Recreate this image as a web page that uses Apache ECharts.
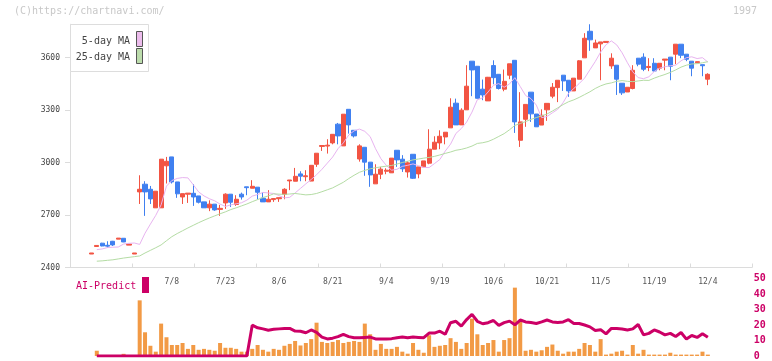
<!DOCTYPE html>
<html><head><meta charset="utf-8">
<script src="https://cdn.jsdelivr.net/npm/echarts@6/dist/echarts.min.js"></script>
<style>html,body{margin:0;padding:0;background:#fff}#c{width:772px;height:361px}</style>
</head><body><div id="c"></div>
<script>
const dates = ['6/17','6/18','6/19','6/20','6/23','6/24','6/25','6/26','6/27','6/30',
'7/1','7/2','7/3','7/4','7/7','7/8','7/9','7/10','7/11','7/14',
'7/15','7/16','7/17','7/18','7/22','7/23','7/24','7/25','7/28','7/29',
'7/30','7/31','8/1','8/4','8/5','8/6','8/7','8/8','8/12','8/13',
'8/14','8/15','8/18','8/19','8/20','8/21','8/22','8/25','8/26','8/27',
'8/28','8/29','9/1','9/2','9/3','9/4','9/5','9/8','9/9','9/10',
'9/11','9/12','9/16','9/17','9/18','9/19','9/22','9/24','9/25','9/26',
'9/29','9/30','10/1','10/2','10/3','10/6','10/7','10/8','10/9','10/10',
'10/14','10/15','10/16','10/17','10/20','10/21','10/22','10/23','10/24','10/27',
'10/28','10/29','10/30','10/31','11/4','11/5','11/6','11/7','11/10','11/11',
'11/12','11/13','11/14','11/17','11/18','11/19','11/20','11/21','11/25','11/26',
'11/27','11/28','12/1','12/2','12/3','12/4'];
const tickLabels = ['7/8','7/23','8/6','8/21','9/4','9/19','10/6','10/21','11/5','11/19','12/4'];
const yTicks = [2400,2700,3000,3300,3600];

const opens = [2477,2520,2539,2527,2550,2562,2567,2528,2477,2832,
2876,2847,2741,2741,2981,3032,2889,2803,2819,2824,
2809,2775,2741,2762,2732,2769,2819,2760,2819,2861,
2853,2859,2796,2775,2788,2793,2818,2895,2893,2935,
2919,2894,2990,3092,3094,3112,3219,3095,3304,3184,
3020,3087,3002,2878,2933,2950,2941,3070,3019,2946,
3047,2935,2975,2996,3076,3112,3146,3198,3339,3215,
3301,3579,3550,3419,3352,3554,3504,3419,3499,3584,
3127,3247,3402,3277,3214,3301,3379,3428,3499,3470,
3409,3476,3598,3750,3655,3678,3686,3552,3556,3453,
3403,3423,3596,3602,3543,3567,3539,3585,3602,3619,
3676,3619,3579,3570,3559,3476];
const closes = [2483,2526,2523,2522,2529,2568,2546,2534,2483,2847,
2832,2792,2836,3019,3007,2889,2821,2822,2825,2803,
2773,2741,2762,2729,2738,2819,2773,2790,2803,2856,
2864,2830,2775,2790,2794,2799,2847,2900,2921,2922,
2924,2984,3053,3097,3099,3161,3152,3276,3215,3152,
3095,3002,2929,2933,2962,2956,3025,3015,2964,2998,
2910,2975,3009,3076,3116,3150,3173,3316,3215,3299,
3436,3529,3367,3386,3487,3485,3423,3464,3564,3232,
3232,3332,3278,3204,3270,3338,3430,3470,3466,3409,
3482,3581,3710,3701,3683,3689,3692,3596,3476,3398,
3430,3527,3562,3533,3549,3523,3567,3591,3550,3676,
3613,3590,3539,3576,3553,3504];
const highs = [2483,2526,2541,2550,2552,2568,2568,2534,2483,2927,
2893,2866,2836,3019,3032,3032,2889,2822,2825,2876,
2809,2775,2784,2762,2758,2824,2819,2813,2828,2861,
2899,2859,2830,2842,2796,2799,2853,2900,2969,2950,
2956,2984,3053,3097,3133,3161,3226,3276,3304,3184,
3104,3087,3002,2990,2975,2967,3025,3070,3042,3007,
3047,2975,3009,3190,3150,3184,3173,3367,3365,3310,
3556,3579,3550,3474,3489,3584,3504,3531,3564,3584,
3402,3332,3402,3277,3304,3338,3454,3470,3499,3470,
3482,3585,3739,3790,3702,3689,3692,3624,3556,3453,
3430,3556,3596,3624,3596,3596,3567,3591,3602,3676,
3676,3619,3579,3576,3559,3510];
const lows = [2477,2520,2521,2514,2523,2562,2545,2528,2477,2763,
2695,2763,2741,2741,2880,2880,2798,2763,2769,2752,
2766,2741,2722,2724,2695,2735,2746,2752,2788,2813,
2853,2790,2775,2775,2775,2775,2790,2842,2893,2893,
2893,2893,2975,3066,3051,3104,3104,3095,3165,3143,
3005,2924,2861,2878,2905,2933,2941,2975,2946,2914,
2906,2910,2975,2990,3076,3076,3104,3198,3215,3215,
3301,3379,3367,3356,3352,3447,3417,3407,3476,3169,
3089,3204,3232,3204,3214,3238,3367,3345,3409,3375,
3409,3476,3598,3638,3655,3470,3686,3535,3386,3386,
3403,3418,3550,3522,3522,3521,3527,3527,3470,3562,
3596,3579,3493,3570,3493,3442];

const ma5 = [null,2502,2506,2514,2516,
2517,2534,2538,2540,2532,2596,2648,2698,2758,2865,
2897,2909,2914,2912,2873,2832,2809,2793,2781,2762,
2749,2758,2764,2770,2785,2808,2817,2829,2826,2823,
2811,2798,2801,2826,2852,2878,2903,2930,2961,2996,
3031,3079,3112,3157,3181,3191,3178,3148,3079,3022,
2984,2956,2961,2978,2984,2992,2982,2972,2971,2994,
3017,3065,3105,3166,3194,3231,3288,3359,3369,3403,
3441,3451,3430,3449,3485,3434,3383,3365,3328,3256,
3263,3284,3304,3342,3395,3423,3451,3482,3530,3577,
3631,3673,3695,3672,3627,3570,3518,3485,3479,3490,
3520,3539,3547,3553,3556,3581,3599,3604,3594,3599,3574];
const ma25 = [null,2436,2438,2441,2444,2449,2454,2458,2462,2466,
2483,2498,2513,2529,2553,2576,2594,2610,2626,2641,2656,2670,2683,2695,2707,
2718,2731,2741,2752,2763,2776,2788,2800,2809,2821,
2819,2818,2820,2823,2819,2815,2817,2823,2833,2844,
2855,2871,2887,2908,2927,2944,2955,2964,2970,2975,
2979,2983,2991,3000,3007,3015,3020,3025,3029,3035,
3043,3052,3060,3070,3075,3083,3094,3109,3113,3120,
3133,3149,3165,3187,3212,3223,3234,3246,3257,3266,
3277,3294,3312,3331,3347,3358,3372,3388,3404,3423,
3438,3449,3455,3464,3468,3464,3462,3466,3470,3469,
3482,3493,3503,3515,3529,3545,3556,3563,3565,3570,3576];

const volume = [0,3.4,0,0,0,0,1.4,0,0,35.9,
15.3,6.6,2.8,20.9,12.1,7.1,7.1,8.4,4.6,7.1,
4.0,4.6,4.0,3.4,8.4,5.3,5.3,4.6,2.8,2.8,
4.6,7.1,4.0,2.8,4.6,4.0,6.6,7.8,9.7,6.8,
8.4,10.9,21.5,9.1,8.4,9.1,10.3,8.4,9.1,9.7,
9.1,20.9,14.0,4.0,7.8,4.6,4.6,5.9,2.8,1.5,
8.4,4.0,2.1,13.4,5.9,6.6,7.1,11.5,9.1,4.6,
8.4,24.1,14.0,7.1,8.4,10.3,2.8,10.3,11.5,44.1,
22.2,3.4,4.0,2.8,3.7,5.9,7.4,3.4,1.5,2.8,
2.8,4.6,8.4,7.1,2.8,10.9,0.9,1.5,2.8,3.4,
0.9,7.1,1.5,4.0,0.9,0.9,0.9,0.9,2.1,0.9,
0.9,0.9,0.9,0.9,2.8,0.9];
const aiPredict = [null,0,0,0,0,0,0,0,0,0,
0,0,0,0,0,0,0,0,0,0,
0,0,0,0,0,0,0,0,0,0,
19.9,18.2,17.5,16.6,17.2,17.5,17.8,17.8,16.1,16.0,
15.0,16.8,15.3,12.2,11.0,11.5,12.5,14.0,12.5,11.8,
11.8,12.0,12.2,11.0,11.0,11.0,11.2,11.8,12.2,11.8,
12.2,12.0,11.8,14.8,14.8,16.0,14.0,21.5,22.4,19.3,
23.5,26.9,22.4,20.8,21.5,22.9,19.8,21.5,22.5,20.1,
23.2,22.0,21.6,21.0,22.0,23.2,22.0,21.6,22.0,23.4,
21.0,21.0,20.0,18.8,16.4,17.0,14.3,17.8,17.8,17.4,
16.8,17.5,20.3,13.6,14.6,16.8,15.5,13.6,14.6,12.6,
15.2,10.9,13.2,12.0,14.4,12.1];

const PADL = 4, PADR = 8;
const cats = [];
for (let k = 0; k < PADL; k++) cats.push('pl' + k);
dates.forEach(d => cats.push(d));
for (let k = 0; k < PADR; k++) cats.push('pr' + k);
const pad = arr => { const out = []; for (let k = 0; k < PADL; k++) out.push('-'); arr.forEach(v => out.push(v == null ? '-' : v)); for (let k = 0; k < PADR; k++) out.push('-'); return out; };
const candleData = pad(dates.map((d, i) => [opens[i], closes[i], lows[i], highs[i]]));

const FONT = 'DejaVu Sans Mono';
const GL = 70, GW = 680.72, GTOP = 24.25, GH = 243.25;
const chart = echarts.init(document.getElementById('c'), null, {renderer: 'canvas'});
chart.setOption({
  animation: false,
  backgroundColor: '#fff',
  grid: [
    {left: GL, top: GTOP, width: GW, height: GH},
    {left: GL, top: GTOP, width: 682, height: GH},
    {left: GL, top: 278.5, width: GW, height: 80}
  ],
  xAxis: [
    {type: 'category', gridIndex: 0, data: cats, boundaryGap: false,
     axisLine: {show: false}, axisTick: {show: false}, splitLine: {show: false},
     axisLabel: {interval: (idx, val) => tickLabels.indexOf(val) >= 0, fontFamily: FONT, fontSize: 8, color: '#555', margin: 10,
       formatter: v => tickLabels.indexOf(v) >= 0 ? v : ''}},
    {type: 'value', gridIndex: 1, min: 0, max: 11, interval: 1,
     axisLine: {show: true, lineStyle: {color: '#dcdcdc', width: 1}},
     axisTick: {show: true, inside: true, length: 4, lineStyle: {color: '#dcdcdc'}},
     axisLabel: {show: false}, splitLine: {show: false}},
    {type: 'category', gridIndex: 2, data: cats, boundaryGap: false,
     axisLine: {show: false}, axisTick: {show: false}, axisLabel: {show: false}, splitLine: {show: false}}
  ],
  yAxis: [
    {type: 'value', gridIndex: 0, min: 2400, max: 3790, interval: 300,
     axisLine: {show: true, lineStyle: {color: '#dcdcdc'}},
     axisTick: {show: true, length: 5, lineStyle: {color: '#dcdcdc'}, customValues: yTicks},
     axisLabel: {fontFamily: FONT, fontSize: 8, color: '#444', margin: 10, customValues: yTicks,
       formatter: v => yTicks.indexOf(v) >= 0 ? String(v) : ''},
     splitLine: {show: false}},
    {type: 'value', gridIndex: 1, min: 0, max: 1, show: false},
    {type: 'value', gridIndex: 2, position: 'right', min: 0, max: 50, interval: 10,
     axisLine: {show: false}, axisTick: {show: false}, splitLine: {show: false},
     axisLabel: {fontFamily: FONT, fontSize: 10, fontWeight: 'bold', color: '#cc0066', margin: 3}},
    {type: 'value', gridIndex: 2, min: 0, max: 50, show: false}
  ],
  series: [
    {type: 'bar', xAxisIndex: 2, yAxisIndex: 3, data: pad(volume), barWidth: 4,
     itemStyle: {color: '#f29a45'}, z: 1},
    {type: 'line', xAxisIndex: 2, yAxisIndex: 2, data: pad(aiPredict), symbol: 'none',
     lineStyle: {color: '#cc0066', width: 3}, z: 3},
    {type: 'candlestick', xAxisIndex: 0, yAxisIndex: 0, data: candleData, barWidth: 4.7,
     itemStyle: {color: '#f25443', color0: '#4080f0', borderColor: '#f25443', borderColor0: '#4080f0', borderWidth: 1}, z: 2},
    {type: 'line', xAxisIndex: 0, yAxisIndex: 0, data: pad(ma5), symbol: 'none',
     lineStyle: {color: '#e8b4f0', width: 1}, z: 3},
    {type: 'line', xAxisIndex: 0, yAxisIndex: 0, data: pad(ma25), symbol: 'none',
     lineStyle: {color: '#b4dca4', width: 1}, z: 3}
  ],
  graphic: [
    {type: 'text', left: 14, top: 6, style: {text: '(C)https://chartnavi.com/', fill: '#c8c8c8', font: '10px "DejaVu Sans Mono"'}},
    {type: 'text', right: 15, top: 6, style: {text: '1997', fill: '#c8c8c8', font: '10px "DejaVu Sans Mono"'}},
    {type: 'rect', shape: {x: 70.5, y: 24.5, width: 78, height: 47}, style: {fill: '#fff', stroke: '#dddddd', lineWidth: 1}, z: 10},
    {type: 'text', x: 130, y: 41, style: {text: '5-day MA', fill: '#444', font: '10px "DejaVu Sans Mono"', align: 'right', verticalAlign: 'middle'}, z: 11},
    {type: 'text', x: 130, y: 57.5, style: {text: '25-day MA', fill: '#444', font: '10px "DejaVu Sans Mono"', align: 'right', verticalAlign: 'middle'}, z: 11},
    {type: 'rect', shape: {x: 136.5, y: 31.5, width: 6, height: 15}, style: {fill: '#ecbcec', stroke: '#555', lineWidth: 1}, z: 11},
    {type: 'rect', shape: {x: 136.5, y: 48.5, width: 6, height: 15}, style: {fill: '#bcdcac', stroke: '#555', lineWidth: 1}, z: 11},
    {type: 'text', x: 76, y: 286, style: {text: 'AI-Predict', fill: '#cc0066', font: '10px "DejaVu Sans Mono"', verticalAlign: 'middle'}, z: 11},
    {type: 'rect', shape: {x: 142, y: 277, width: 7, height: 16}, style: {fill: '#cc0066'}, z: 11}
  ]
});
</script></body></html>
